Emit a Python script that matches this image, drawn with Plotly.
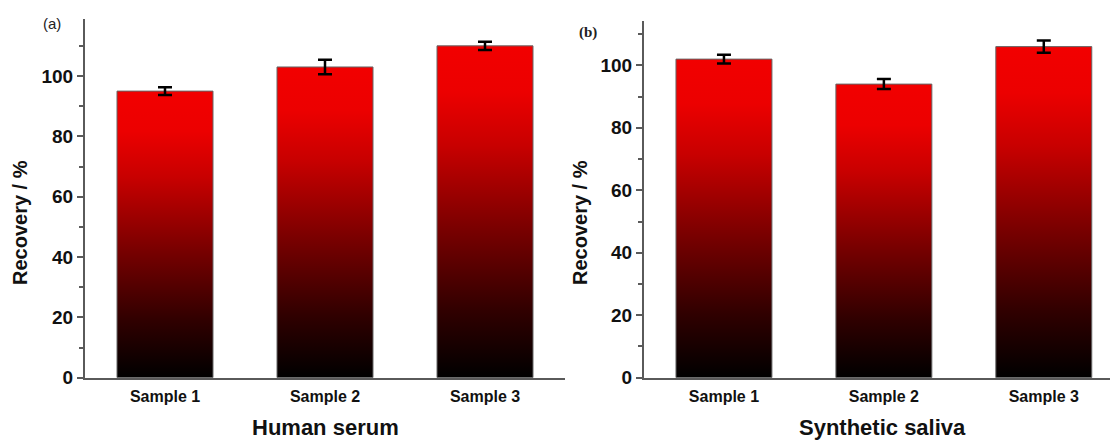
import plotly.graph_objects as go

samples = ["Sample 1", "Sample 2", "Sample 3"]
serum_recovery = [95.0, 103.0, 110.0]
serum_error = [1.3, 2.4, 1.4]
saliva_recovery = [102.0, 94.0, 106.0]
saliva_error = [1.4, 1.6, 2.0]

W, H = 1110, 441
FONT = "Liberation Sans, Arial, sans-serif"
AXIS_COLOR = "#5a5a5a"
BAR_W = 0.6
GRAD = [[0.0, "#000000"], [0.2, "#300000"], [0.45, "#7a0000"],
        [0.7, "#c80000"], [0.86, "#ec0000"], [1.0, "#f20000"]]

fig = go.Figure()


def add_panel(vals, errs, xa, ya):
    for i, v in enumerate(vals):
        fig.add_trace(go.Scatter(
            x=[i - BAR_W / 2, i + BAR_W / 2, i + BAR_W / 2, i - BAR_W / 2, i - BAR_W / 2],
            y=[0, 0, v, v, 0],
            fill="toself", mode="lines", line=dict(width=1, color="#666666"),
            fillgradient=dict(type="vertical", colorscale=GRAD, start=0, stop=v),
            xaxis=xa, yaxis=ya, showlegend=False, hoverinfo="skip"))
    fig.add_trace(go.Scatter(
        x=list(range(len(vals))), y=vals, mode="markers",
        marker=dict(size=1, color="rgba(0,0,0,0)"),
        error_y=dict(type="data", array=errs, visible=True, color="black",
                     thickness=2.5, width=7),
        xaxis=xa, yaxis=ya, showlegend=False))


add_panel(serum_recovery, serum_error, "x", "y")
add_panel(saliva_recovery, saliva_error, "x2", "y2")

y0 = (H - 377.7) / H
xcommon = dict(tickmode="array", tickvals=[0, 1, 2], ticktext=samples,
               showline=True, linecolor=AXIS_COLOR, linewidth=2, ticks="",
               showgrid=False, zeroline=False, automargin=False,
               tickfont=dict(family=FONT, size=16, color="#111111", weight="bold"),
               ticklabelstandoff=3)
ycommon = dict(showline=True, linecolor=AXIS_COLOR, linewidth=2, ticks="outside",
               ticklen=6, tickwidth=2, tickcolor=AXIS_COLOR, dtick=20, tick0=0,
               showgrid=False, zeroline=False, automargin=False,
               minor=dict(ticks="outside", dtick=10, ticklen=4, tickwidth=2,
                          tickcolor=AXIS_COLOR, showgrid=False),
               tickfont=dict(family=FONT, size=19, color="#111111", weight="bold"))

title_font = dict(family=FONT, size=20, color="#111111")

fig.update_layout(
    width=W, height=H,
    margin=dict(l=0, r=0, t=0, b=0, autoexpand=False),
    paper_bgcolor="white", plot_bgcolor="white",
    xaxis=dict(domain=[85 / W, 565 / W], range=[-0.5, 2.5], anchor="y", **xcommon),
    yaxis=dict(domain=[y0, (H - 19) / H], range=[0, 118.9], anchor="x", **ycommon),
    xaxis2=dict(domain=[644 / W, 1.0], range=[-0.5, 2.414], anchor="y2", **xcommon),
    yaxis2=dict(domain=[y0, (H - 20.7) / H], range=[0, 114.3], anchor="x2", **ycommon),
    annotations=[
        dict(text="<b>Recovery / %</b>", x=20 / W, y=(H - 223) / H, xref="paper",
             yref="paper", showarrow=False, textangle=-90, xanchor="center",
             yanchor="middle", font=title_font),
        dict(text="<b>Recovery / %</b>", x=580 / W, y=(H - 223) / H, xref="paper",
             yref="paper", showarrow=False, textangle=-90, xanchor="center",
             yanchor="middle", font=title_font),
        dict(text="<b>Human serum</b>", x=325 / W, y=(H - 427) / H, xref="paper",
             yref="paper", showarrow=False, xanchor="center", yanchor="middle",
             font=dict(family=FONT, size=22, color="#111111")),
        dict(text="<b>Synthetic saliva</b>", x=882 / W, y=(H - 427) / H, xref="paper",
             yref="paper", showarrow=False, xanchor="center", yanchor="middle",
             font=dict(family=FONT, size=22, color="#111111")),
        dict(text="(a)", x=52 / W, y=(H - 23) / H, xref="paper", yref="paper",
             showarrow=False, xanchor="center", yanchor="middle",
             font=dict(family=FONT, size=15, color="#222222")),
        dict(text="<b>(b)</b>", x=588 / W, y=(H - 32) / H, xref="paper", yref="paper",
             showarrow=False, xanchor="center", yanchor="middle",
             font=dict(family="Liberation Serif, Times New Roman, serif", size=15,
                       color="#222222")),
    ],
)

fig.write_html("out.html")
